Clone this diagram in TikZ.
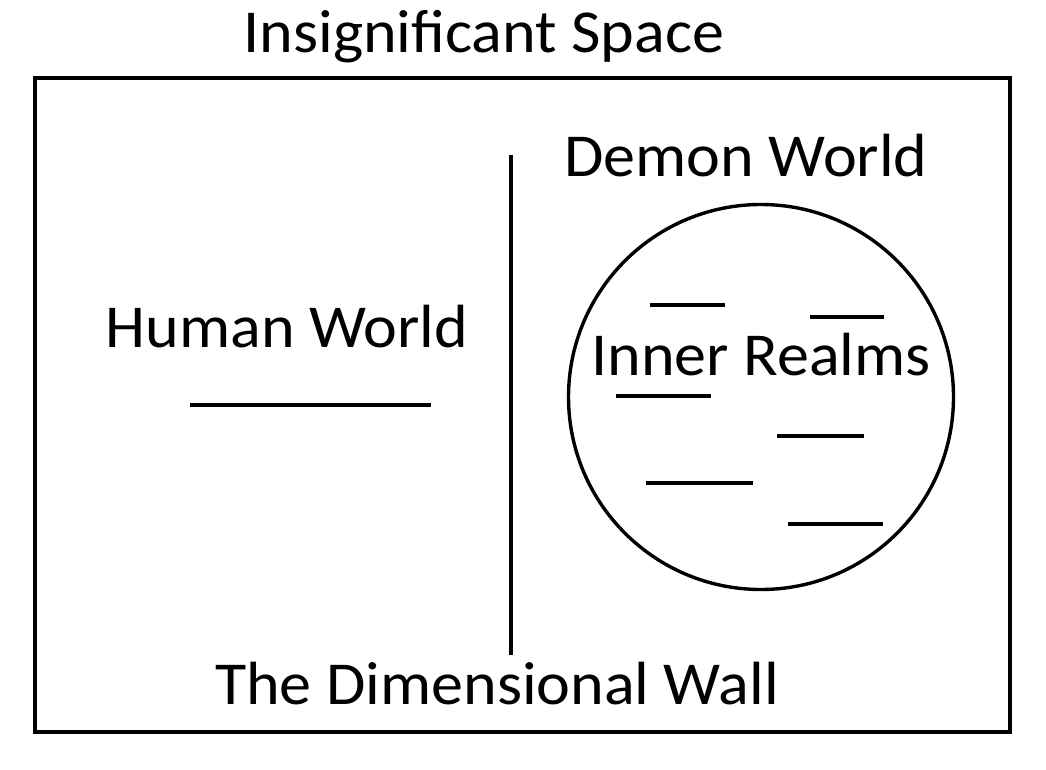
\documentclass[tikz,border=0pt]{standalone}
\usepackage{fontspec}
\setmainfont{Carlito}[FakeStretch=1.05]
\usetikzlibrary{positioning,calc}
\tikzset{
  wallln/.style={line width=4pt, line cap=butt},
  realmln/.style={line width=3.4pt},
  lbl/.style={font=\fontsize{61}{64}\selectfont, inner sep=0pt, anchor=base},
}
\newcommand{\riftln}[3]{%
  \draw[realmln] (#1,#3) -- (#2,#3);
}
\begin{document}
\begin{tikzpicture}[x=1pt, y=-1pt]
    \useasboundingbox[fill=white] (0,0) rectangle (1046,770);
    % the frame and the wall
    \draw[wallln] (35,78) rectangle (1010,732);
    \coordinate (walltop) at (511,155);
    \coordinate (wallbot) at (511,655);
    \draw[wallln] (walltop) -- (wallbot);
    % labels
    \node[lbl] (space) at (484,53) {Insignificant Space};
    \node[lbl] (demon) at (746,177) {Demon World};
    \node[lbl] (human) at (287,347) {Human World};
    \node[lbl] (wall) at (497,704) {The Dimensional Wall};
    \draw[realmln] (190,405) -- (431,405);
    % inner realms
    \draw[realmln] (761,397) circle (192.5);
    \node[lbl] (inner) at (761,375) {Inner Realms};
    \riftln{650}{725}{305}
    \riftln{810}{884}{317}
    \riftln{616}{711}{396}
    \riftln{777}{864}{436}
    \riftln{646}{753}{483}
    \riftln{788}{883}{524}
  \end{tikzpicture}
\end{document}
